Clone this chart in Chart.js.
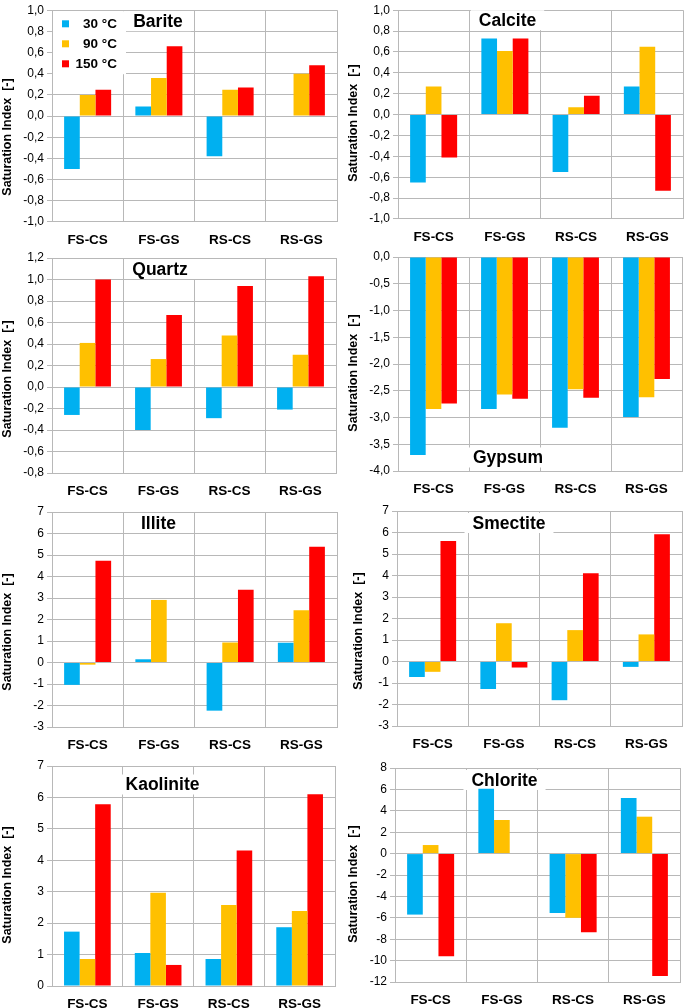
<!DOCTYPE html>
<html>
<head>
<meta charset="utf-8">
<script src="https://cdn.jsdelivr.net/npm/chart.js@4/dist/chart.umd.min.js"></script>
<style>
html,body{margin:0;padding:0;background:#fff;width:685px;height:1008px;overflow:hidden}
canvas{position:absolute;left:0;top:0}
</style>
</head>
<body>
<canvas id="c0" width="685" height="1008"></canvas>
<canvas id="c1" width="685" height="1008"></canvas>
<canvas id="c2" width="685" height="1008"></canvas>
<canvas id="c3" width="685" height="1008"></canvas>
<canvas id="c4" width="685" height="1008"></canvas>
<canvas id="c5" width="685" height="1008"></canvas>
<canvas id="c6" width="685" height="1008"></canvas>
<canvas id="c7" width="685" height="1008"></canvas>
<script>
// ---------- data ----------
const categories = ['FS-CS', 'FS-GS', 'RS-CS', 'RS-GS'];
const seriesLabels = ['30 °C', '90 °C', '150 °C'];
const yAxisTitle = 'Saturation Index  [-]';

const barite30 = [-0.50, 0.09, -0.38, 0.00];
const barite90 = [0.20, 0.36, 0.25, 0.40];
const barite150 = [0.25, 0.66, 0.27, 0.48];

const calcite30 = [-0.65, 0.73, -0.55, 0.27];
const calcite90 = [0.27, 0.61, 0.07, 0.65];
const calcite150 = [-0.41, 0.73, 0.18, -0.73];

const quartz30 = [-0.26, -0.40, -0.29, -0.21];
const quartz90 = [0.41, 0.26, 0.48, 0.30];
const quartz150 = [1.00, 0.67, 0.94, 1.03];

const gypsum30 = [-3.70, -2.84, -3.19, -2.99];
const gypsum90 = [-2.84, -2.57, -2.47, -2.62];
const gypsum150 = [-2.74, -2.65, -2.63, -2.28];

const illite30 = [-1.04, 0.15, -2.24, 0.92];
const illite90 = [-0.10, 2.91, 0.93, 2.43];
const illite150 = [4.73, 0.00, 3.38, 5.38];

const smectite30 = [-0.72, -1.28, -1.80, -0.25];
const smectite90 = [-0.48, 1.78, 1.46, 1.26];
const smectite150 = [5.61, -0.28, 4.10, 5.92];

const kaolinite30 = [1.73, 1.05, 0.86, 1.87];
const kaolinite90 = [0.86, 2.97, 2.58, 2.39];
const kaolinite150 = [5.78, 0.67, 4.31, 6.10];

const chlorite30 = [-5.70, 6.07, -5.55, 5.20];
const chlorite90 = [0.80, 3.14, -6.00, 3.45];
const chlorite150 = [-9.60, 0.00, -7.35, -11.43];

const ticksPm1 = ['-1,0', '-0,8', '-0,6', '-0,4', '-0,2', '0,0', '0,2', '0,4', '0,6', '0,8', '1,0'];
const ticksQuartz = ['-0,8', '-0,6', '-0,4', '-0,2', '0,0', '0,2', '0,4', '0,6', '0,8', '1,0', '1,2'];
const ticksGypsum = ['-4,0', '-3,5', '-3,0', '-2,5', '-2,0', '-1,5', '-1,0', '-0,5', '0,0'];
const ticksClay = ['-3', '-2', '-1', '0', '1', '2', '3', '4', '5', '6', '7'];
const ticksKaolinite = ['0', '1', '2', '3', '4', '5', '6', '7'];
const ticksChlorite = ['-12', '-10', '-8', '-6', '-4', '-2', '0', '2', '4', '6', '8'];

// ---------- styles ----------
const COLORS = ['#00B0F0', '#FFC000', '#FF0000'];
const GRID = '#b8b8b8';
const FAMILY = '"Liberation Sans", Arial, Helvetica, sans-serif';
const PAGE_W = 685, PAGE_H = 1008;
const Y_W = 50, X_H = 30;

Chart.defaults.font.family = FAMILY;

const panelPlugin = {
  id: 'panel',
  beforeDatasetsDraw(chart, args, o) {
    const ctx = chart.ctx, a = chart.chartArea;
    ctx.save();
    if (o.legend) {
      ctx.fillStyle = '#fff';
      ctx.fillRect(a.left + 1, a.top + 1, 73, 63);
      ctx.font = 'bold 13.5px ' + FAMILY;
      ctx.textAlign = 'right';
      ctx.textBaseline = 'middle';
      chart.data.datasets.forEach((ds, i) => {
        const cy = a.top + 13.6 + 20 * i;
        ctx.fillStyle = ds.backgroundColor;
        ctx.fillRect(a.left + 10, cy - 3.5, 7, 7);
        ctx.fillStyle = '#000';
        ctx.fillText(ds.label, a.left + 65, cy + 0.5);
      });
    }
    if (o.title) {
      ctx.font = 'bold 17.5px ' + FAMILY;
      const w = ctx.measureText(o.title).width;
      const cx = a.left + o.titleDx;
      const cy = o.titleFromBottom ? a.bottom - o.titleDy : a.top + o.titleDy;
      ctx.fillStyle = '#fff';
      ctx.fillRect(cx - w / 2 - 8, cy - 10, w + 16, 20);
      ctx.fillStyle = '#000';
      ctx.textAlign = 'center';
      ctx.textBaseline = 'middle';
      ctx.fillText(o.title, cx, cy + 1);
    }
    ctx.restore();
  },
  afterDraw(chart, args, o) {
    const ctx = chart.ctx;
    ctx.save();
    ctx.translate(o.yTitleX, o.yTitleY);
    ctx.rotate(-Math.PI / 2);
    ctx.font = 'bold 12.5px ' + FAMILY;
    ctx.fillStyle = '#000';
    ctx.textAlign = 'center';
    ctx.textBaseline = 'middle';
    ctx.fillText(yAxisTitle, 0, 0);
    ctx.restore();
  }
};

function makePanel(id, title, d30, d90, d150, tickLabels, lay) {
  const tickVals = tickLabels.map(s => parseFloat(s.replace(',', '.')));
  const [L, T, R, B] = lay.plot;
  new Chart(document.getElementById(id), {
    type: 'bar',
    data: {
      labels: categories,
      datasets: [d30, d90, d150].map((d, i) => ({
        label: seriesLabels[i],
        data: d,
        backgroundColor: COLORS[i],
        borderWidth: 0,
        categoryPercentage: 0.66,
        barPercentage: 1.0
      }))
    },
    options: {
      responsive: false,
      animation: false,
      devicePixelRatio: 1,
      layout: { padding: { left: L - Y_W, top: T, right: PAGE_W - R, bottom: PAGE_H - B - X_H } },
      plugins: {
        legend: { display: false },
        tooltip: { enabled: false },
        panel: {
          title: title,
          titleDx: lay.titleDx, titleDy: lay.titleDy, titleFromBottom: !!lay.titleFromBottom,
          legend: !!lay.legend,
          yTitleX: lay.yTitle[0], yTitleY: lay.yTitle[1]
        }
      },
      scales: {
        x: {
          offset: true,
          grid: { offset: true, color: GRID, lineWidth: 1, drawTicks: false },
          border: { color: GRID, width: 1 },
          ticks: { color: '#000', font: { size: 13.5, weight: 'bold' }, padding: 10.5, maxRotation: 0, autoSkip: false },
          afterFit(s) { s.height = X_H; }
        },
        y: {
          min: Math.min(...tickVals),
          max: Math.max(...tickVals),
          afterBuildTicks(s) { s.ticks = tickVals.map(v => ({ value: v })); },
          grid: { color: GRID, lineWidth: 1, tickLength: 5 },
          border: { color: GRID, width: 1 },
          ticks: {
            color: '#000', font: { size: 12 }, padding: 3, autoSkip: false,
            callback: (v) => tickLabels[tickVals.indexOf(v)]
          },
          afterFit(s) { s.width = Y_W; }
        }
      }
    },
    plugins: [panelPlugin]
  });
}

makePanel('c0', 'Barite', barite30, barite90, barite150, ticksPm1,
  { plot: [52, 7, 337, 222], titleDx: 106, titleDy: 11, legend: true, yTitle: [7.5, 137] });
makePanel('c1', 'Calcite', calcite30, calcite90, calcite150, ticksPm1,
  { plot: [398, 5, 683, 219], titleDx: 109.5, titleDy: 10, yTitle: [354, 123] });
makePanel('c2', 'Quartz', quartz30, quartz90, quartz150, ticksQuartz,
  { plot: [52, 258, 336, 473], titleDx: 108, titleDy: 11, yTitle: [7.5, 379] });
makePanel('c3', 'Gypsum', gypsum30, gypsum90, gypsum150, ticksGypsum,
  { plot: [398, 257, 682, 471], titleDx: 110, titleDy: 13.5, titleFromBottom: true, yTitle: [354, 373] });
makePanel('c4', 'Illite', illite30, illite90, illite150, ticksClay,
  { plot: [52, 512, 337, 727], titleDx: 106.5, titleDy: 11, yTitle: [7.5, 632] });
makePanel('c5', 'Smectite', smectite30, smectite90, smectite150, ticksClay,
  { plot: [397, 511, 682, 726], titleDx: 112, titleDy: 12, yTitle: [359, 631] });
makePanel('c6', 'Kaolinite', kaolinite30, kaolinite90, kaolinite150, ticksKaolinite,
  { plot: [52, 766, 335, 986], titleDx: 110.5, titleDy: 18.5, yTitle: [7.5, 885] });
makePanel('c7', 'Chlorite', chlorite30, chlorite90, chlorite150, ticksChlorite,
  { plot: [395, 768, 680, 982], titleDx: 109.5, titleDy: 12, yTitle: [354, 884] });
</script>
</body>
</html>
